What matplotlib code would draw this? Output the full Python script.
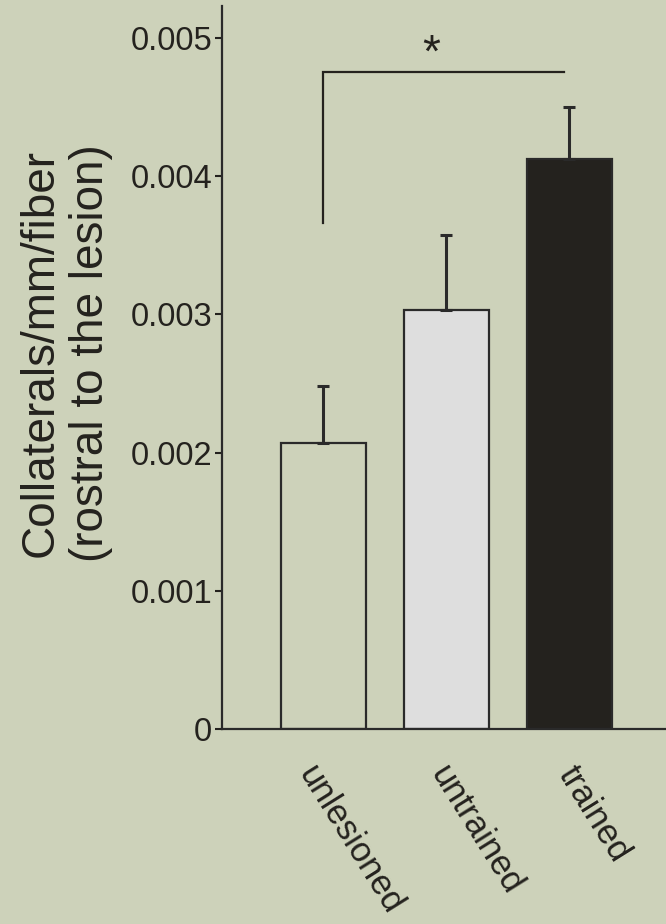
import matplotlib
matplotlib.use("Agg")
import matplotlib.pyplot as plt
from matplotlib import font_manager
from matplotlib.transforms import ScaledTranslation

# Data
groups = ["unlesioned", "untrained", "trained"]
means = [0.00207, 0.00303, 0.00412]
sems = [0.00041, 0.00054, 0.00038]
bar_colors = ["#CDD2BA", "#DEDEDE", "#24221E"]
yticks = [0, 0.001, 0.002, 0.003, 0.004, 0.005]
ytick_labels = ["0", "0.001", "0.002", "0.003", "0.004", "0.005"]
sig_pair = (0, 2)
sig_text = "*"

bg = "#CDD2BA"
ink = "#24221E"
# small horizontal nudges (pixels) for the slanted group labels
label_nudge_px = [-17, -9, -4]

names = {f.name for f in font_manager.fontManager.ttflist}
narrow = "Liberation Sans Narrow" if "Liberation Sans Narrow" in names else "Liberation Sans"
tick_size = 26 if narrow != "Liberation Sans" else 23.5

fig = plt.figure(figsize=(6.66, 9.24), dpi=100, facecolor=bg)
ax = fig.add_axes([0.333, 0.211, 0.667, 0.7825], facecolor=bg)

x = list(range(len(groups)))
ax.bar(x, means, width=0.69, color=bar_colors, edgecolor="#2A2A2A",
       linewidth=1.6, zorder=2)
ax.errorbar(x, means, yerr=[[0] * len(sems), sems], fmt="none",
            ecolor="#2A2A2A", elinewidth=2.2, capsize=4.0, capthick=2.2,
            zorder=3)

ax.set_xlim(-0.825, 2.785)
ax.set_ylim(0, 0.00523)

ax.set_yticks(yticks)
ax.set_yticklabels(ytick_labels, fontfamily=narrow, fontsize=tick_size,
                   color=ink)
ax.set_xticks(x)
ax.set_xticklabels([])
ax.tick_params(axis="y", length=5, width=1.5, pad=2, color=ink)
ax.tick_params(axis="x", length=0)

# slanted group names under the bars
for xi, name, dx in zip(x, groups, label_nudge_px):
    off = ScaledTranslation(dx / 100, -40 / 100, fig.dpi_scale_trans)
    ax.text(xi, 0, name, transform=ax.get_xaxis_transform() + off,
            rotation=-58, rotation_mode="anchor", ha="left", va="center",
            fontfamily="Liberation Sans", fontsize=25, color=ink)

for s in ["top", "right"]:
    ax.spines[s].set_visible(False)
for s in ["left", "bottom"]:
    ax.spines[s].set_linewidth(1.6)
    ax.spines[s].set_color("#2A2A2A")

ax.set_ylabel("Collaterals/mm/fiber\n(rostral to the lesion)",
              fontfamily="Liberation Sans", fontsize=33, color=ink,
              linespacing=1.18)
ax.yaxis.set_label_coords(-0.245, 0.52)

# Significance bracket
x0, x1 = sig_pair[0], sig_pair[1] - 0.045
y_top = 0.00475
y_leg = 0.00366
ax.plot([x0, x0, x1], [y_leg, y_top, y_top], color=ink, linewidth=1.6,
        solid_joinstyle="miter", zorder=3)
ax.text(0.88, 0.00479, sig_text, ha="center", va="baseline",
        fontfamily="Liberation Sans", fontsize=33, color=ink)

fig.savefig("out.png", dpi=100, facecolor=bg)
